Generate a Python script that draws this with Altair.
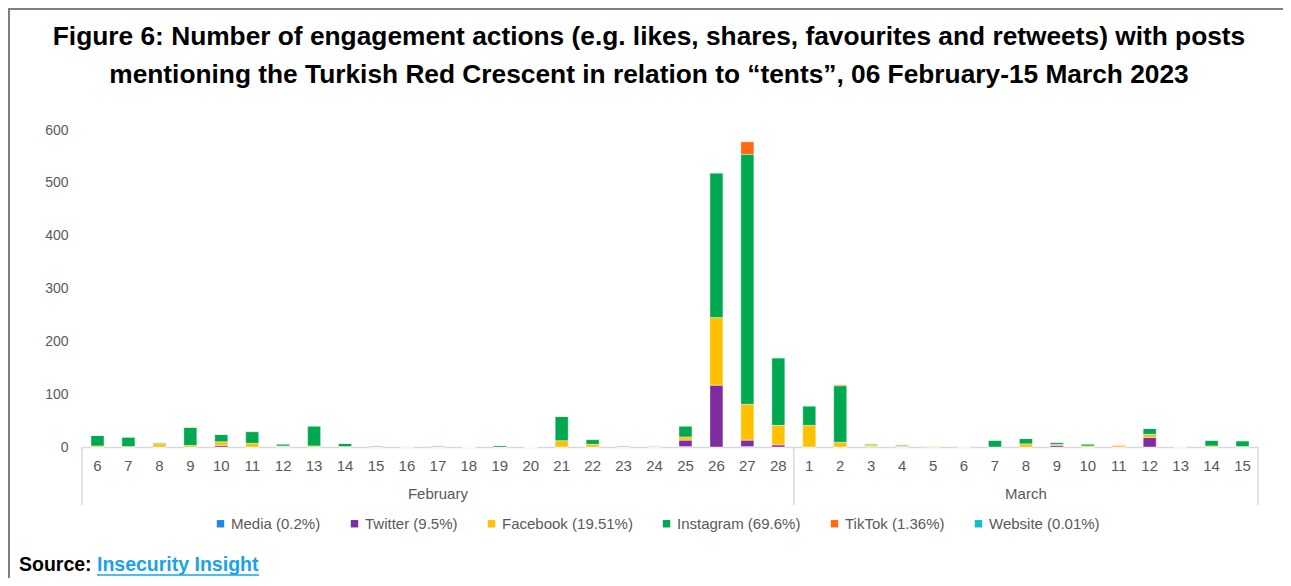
import altair as alt
import pandas as pd

days = [f"Feb {d}" for d in range(6, 29)] + [f"Mar {d}" for d in range(1, 16)]
day_labels = [str(d) for d in range(6, 29)] + [str(d) for d in range(1, 16)]

# values per day (same order as days)
media =     [0,0,0,0,0,0,0,0,0,0,0,0,0,0,0,0,0,0,0,1,0,1, 0,  0,0,1,0,0,0,0,0,0,0,0,0,0,0,0]
twitter =   [0,0,0,0,3,0,1,0,0,0,0,0,0,0,0,0,0,0,0,12,117,12,4, 0,0,0,0,0,0,0,0,3,0,0,18,0,0,0]
facebook =  [2,1,6,3,7,7,1,2,1,0,0,0,0,0,0,12,5,0,1,6,128,68,37, 41,9,3,1,2,0,0,6,2,2,3,6,0,2,1]
instagram = [20,18,2,34,14,22,4,38,6,2,1,2,0,3,0,46,9,2,1,21,274,473,128, 37,107,2,1,0,1,13,10,4,4,0,11,1,11,11]
tiktok =    [0,0,0,1,0,1,0,0,0,0,0,0,0,0,0,0,1,0,0,0,0,24,0, 0,2,0,2,0,0,0,0,0,0,1,0,0,0,0]
website =   [0,0,0,0,0,0,0,0,0,0,0,0,0,0,0,0,0,0,0,0,0,0,0, 0,0,0,0,0,0,0,0,0,0,0,0,0,0,0]

series_names = ["Media (0.2%)", "Twitter (9.5%)", "Facebook (19.51%)",
                "Instagram (69.6%)", "TikTok (1.36%)", "Website (0.01%)"]
series_colors = ["#1E88E5", "#7F2CA0", "#FFC000", "#00A84F", "#FF6A10", "#12BCC8"]
series_values = [media, twitter, facebook, instagram, tiktok, website]

months = ["February", "March"]
title_lines = ["Figure 6: Number of engagement actions (e.g. likes, shares, favourites and retweets) with posts",
               "mentioning the Turkish Red Crescent in relation to \u201ctents\u201d, 06 February-15 March 2023"]

rows = []
for si, (name, vals) in enumerate(zip(series_names, series_values)):
    for di, (day, lab) in enumerate(zip(days, day_labels)):
        rows.append({"day": day, "label": lab, "series": name, "ord": si, "value": vals[di]})
df = pd.DataFrame(rows)

FONT = "Liberation Sans, Arial"
W, H = 1176, 317

x_scale = alt.Scale(domain=days, paddingInner=0, paddingOuter=0)
x_enc = alt.X("day:N", sort=days, scale=x_scale,
              axis=alt.Axis(title=None, labelExpr="split(datum.value, ' ')[1]", labelAngle=0,
                            labelFont=FONT, labelFontSize=15, labelColor="#595959",
                            labelPadding=11, ticks=False, domainColor="#D9D9D9",
                            domainWidth=1.5))

bars = alt.Chart(df).mark_bar(width={"band": 0.42}, stroke="white", strokeOpacity=0.5,
                              strokeWidth=0.8).encode(
    x=x_enc,
    y=alt.Y("sum(value):Q", scale=alt.Scale(domain=[0, 600]),
            axis=alt.Axis(title=None, values=[0, 100, 200, 300, 400, 500, 600], grid=False,
                          domain=False, ticks=False, labelFont=FONT,
                          labelFontSize=14, labelColor="#595959", labelPadding=14)),
    color=alt.Color("series:N", sort=series_names,
                    scale=alt.Scale(domain=series_names, range=series_colors),
                    legend=alt.Legend(title=None, orient="none", direction="horizontal",
                                      legendX=131, legendY=386, symbolType="square",
                                      symbolSize=55, symbolStrokeWidth=0,
                                      labelFont=FONT, labelFontSize=15,
                                      labelColor="#595959", labelOffset=3,
                                      columnPadding=26, symbolOpacity=1)),
    order=alt.Order("ord:Q", sort="ascending"),
)

# month separators (left edge of each month's first day, right edge of last day)
sep_left = pd.DataFrame({"day": ["Feb 6", "Mar 1"]})
sep_right = pd.DataFrame({"day": ["Mar 15"]})
sep1 = alt.Chart(sep_left).mark_rule(color="#D9D9D9", strokeWidth=1.5).encode(
    x=alt.X("day:N", sort=days, scale=x_scale, bandPosition=0), y=alt.value(H), y2=alt.value(H + 58))
sep2 = alt.Chart(sep_right).mark_rule(color="#D9D9D9", strokeWidth=1.5).encode(
    x=alt.X("day:N", sort=days, scale=x_scale, bandPosition=1), y=alt.value(H), y2=alt.value(H + 58))

month_df = pd.DataFrame({"day": ["Feb 17", "Mar 8"], "m": months})
mtext = alt.Chart(month_df).mark_text(font=FONT, fontSize=15, color="#595959").encode(
    x=alt.X("day:N", sort=days, scale=x_scale, bandPosition=0.5), y=alt.value(H + 47), text="m:N")

t1 = alt.Chart(pd.DataFrame({"t": [title_lines[0]]})).mark_text(
    font=FONT, fontSize=26.3, fontWeight="bold", color="#000000", align="center",
    baseline="alphabetic").encode(x=alt.value(567), y=alt.value(-85), text="t:N")
t2 = alt.Chart(pd.DataFrame({"t": [title_lines[1]]})).mark_text(
    font=FONT, fontSize=26.3, fontWeight="bold", color="#000000", align="center",
    baseline="alphabetic").encode(x=alt.value(567), y=alt.value(-47), text="t:N")

src1 = alt.Chart(pd.DataFrame({"t": ["Source:"]})).mark_text(
    font=FONT, fontSize=19.5, fontWeight="bold", color="#000000", align="left").encode(
    x=alt.value(-63), y=alt.value(H + 118), text="t:N")
src2 = alt.Chart(pd.DataFrame({"t": ["Insecurity Insight"]})).mark_text(
    font=FONT, fontSize=19.5, fontWeight="bold", color="#1AA3E8", align="left").encode(
    x=alt.value(15), y=alt.value(H + 118), text="t:N")
underline = alt.Chart(pd.DataFrame({"a": [0]})).mark_rule(color="#1AA3E8", strokeWidth=1.5).encode(
    x=alt.value(15), x2=alt.value(177), y=alt.value(H + 128))

border = alt.Chart(pd.DataFrame({"a": [0]})).mark_rect(
    fill=None, stroke="#7F7F7F", strokeWidth=2).encode(
    x=alt.value(-73), x2=alt.value(1300), y=alt.value(-121), y2=alt.value(H + 200))

chart = alt.layer(border, bars, sep1, sep2, mtext, t1, t2, src1, src2, underline).properties(
    width=W, height=H,
    background="white",
    padding={"left": 74, "top": 122, "right": 25, "bottom": 131},
    autosize=alt.AutoSizeParams(type="none"),
).configure_view(stroke=None)

chart.save("out.html", embed_options={"renderer": "svg", "actions": False})
